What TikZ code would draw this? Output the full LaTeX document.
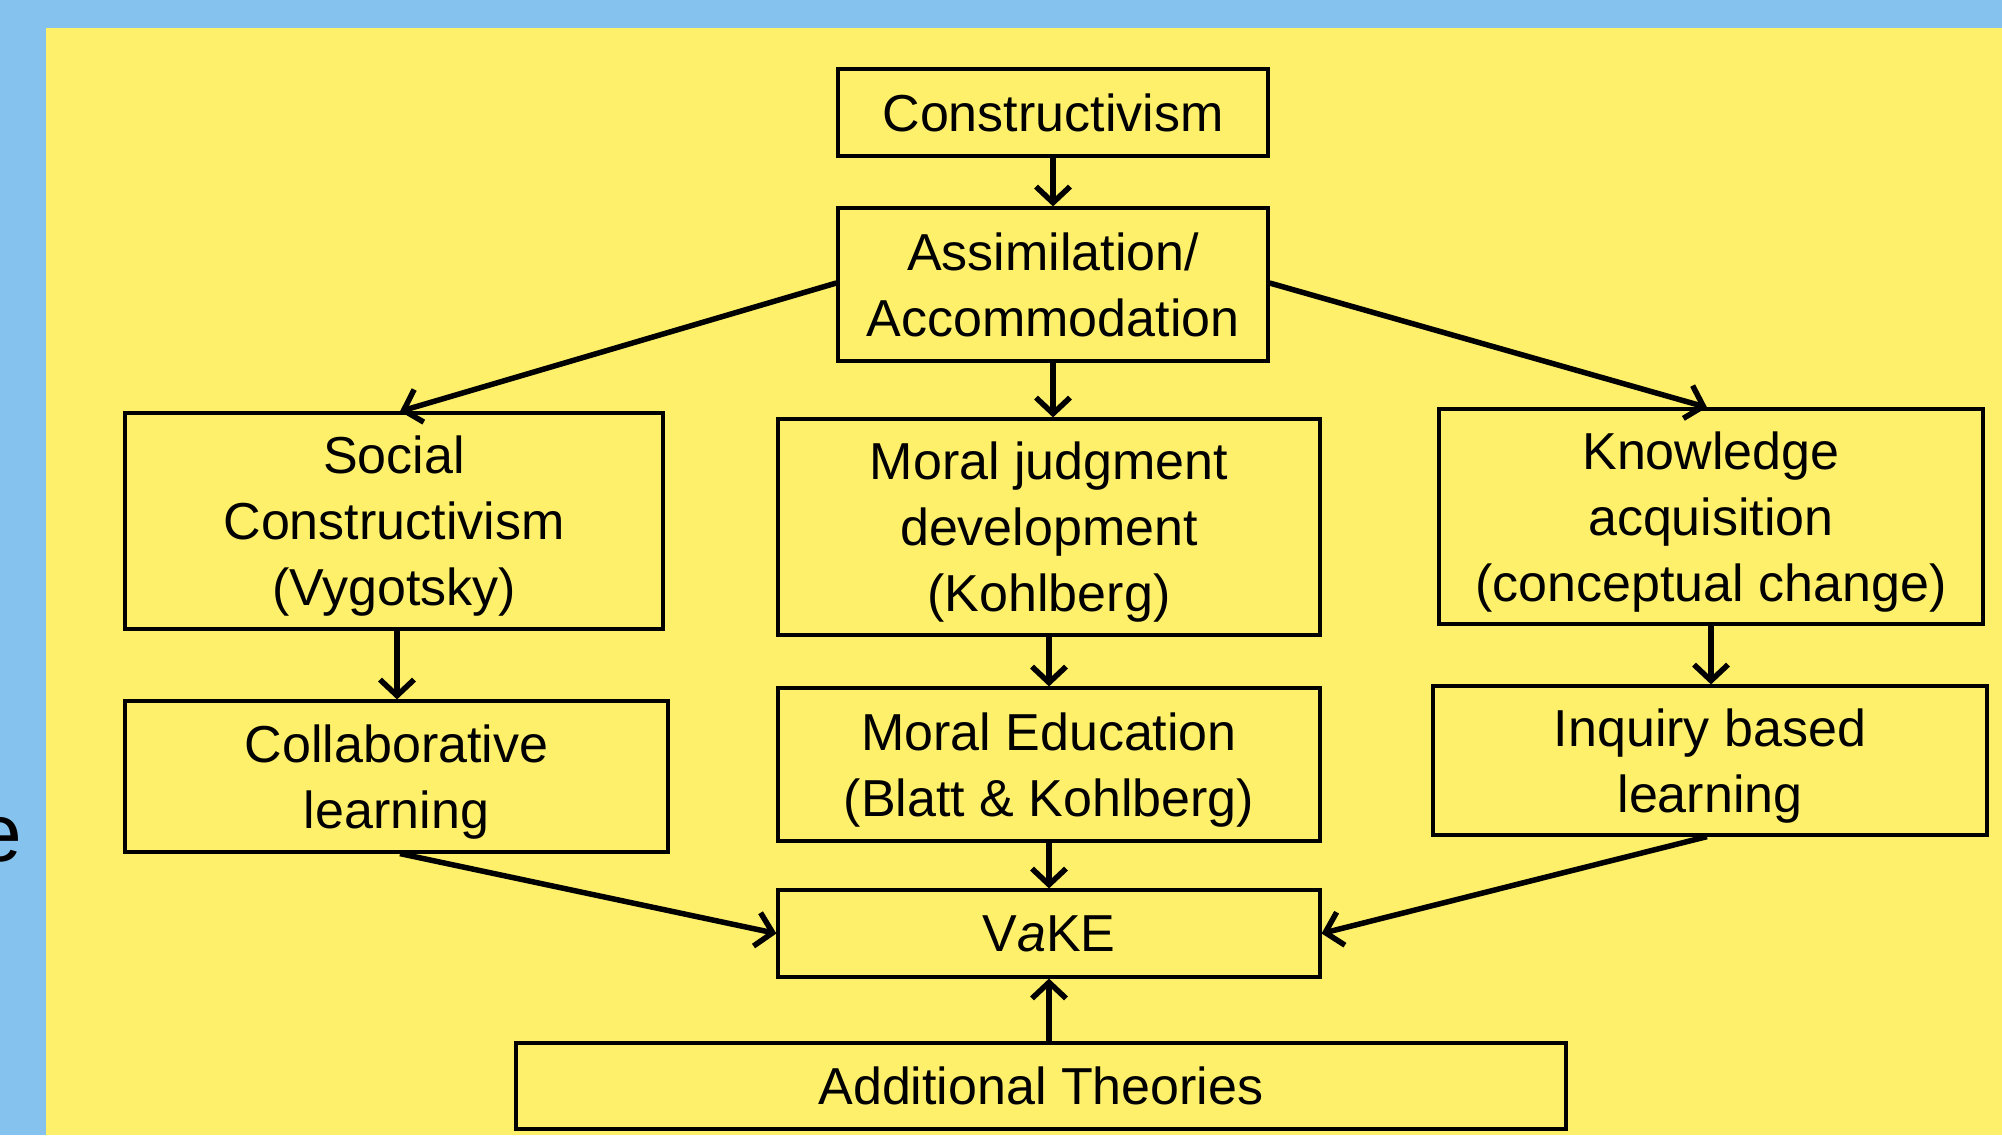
\documentclass[tikz,border=0pt]{standalone}
\usepackage{fontspec}
\setmainfont{Liberation Sans}
\usetikzlibrary{arrows.meta}
\definecolor{bgblue}{RGB}{133,194,237}
\definecolor{bgyellow}{RGB}{254,240,106}
\begin{document}
\begin{tikzpicture}[x=1pt,y=-1pt,
  box/.style={draw=black, line width=3.2pt, inner sep=0pt, align=center,
    font=\fontsize{52}{66}\selectfont, text=black, text depth=0pt},
  arr/.style={line width=5.5pt, -{Straight Barb[length=16pt,width=34pt,line width=5.5pt]}}]
\useasboundingbox (0,0) rectangle (2002,1135);
\fill[bgblue] (0,0) rectangle (2002,1135);
\fill[bgyellow] (46,28) rectangle (2002,1135);
\node[anchor=base east, font=\fontsize{82}{82}\selectfont, inner sep=0pt] (frag) at (22,861) {e};

\node[box, minimum width=430pt, minimum height=87pt] (cons) at (1053,112.5) {Constructivism};
\node[box, minimum width=430pt, minimum height=153pt] (assim) at (1053,284.5) {Assimilation/\\Accommodation};
\node[box, minimum width=538pt, minimum height=216pt] (social) at (394,521) {Social\\Constructivism\\(Vygotsky)};
\node[box, minimum width=542pt, minimum height=216pt] (moral) at (1049,527) {Moral judgment\\development\\(Kohlberg)};
\node[box, minimum width=544pt, minimum height=215pt] (know) at (1711,516.5) {Knowledge\\acquisition\\(conceptual change)};
\node[box, minimum width=543pt, minimum height=151pt] (collab) at (396.5,776.5) {Collaborative\\learning};
\node[box, minimum width=542pt, minimum height=153pt] (moraled) at (1049,764.5) {Moral Education\\(Blatt \& Kohlberg)};
\node[box, minimum width=554pt, minimum height=149pt] (inquiry) at (1710,760.5) {Inquiry based\\learning};
\node[box, minimum width=542pt, minimum height=87pt] (vake) at (1049,933.5) {V\textit{a}KE};
\node[box, minimum width=1050pt, minimum height=86pt] (add) at (1041,1086) {Additional Theories};

\draw[arr] (cons.south) -- (assim.north);
\draw[arr] (assim.south) -- (assim.south |- moral.north);
\draw[arr] (assim.west |- 0,283) -- (social.north -| 400,0);
\draw[arr] (assim.east |- 0,283) -- (know.north -| 1707,0);
\draw[arr] (social.south -| 397,0) -- (collab.north -| 397,0);
\draw[arr] (moral.south) -- (moraled.north);
\draw[arr] (know.south) -- (inquiry.north -| know.south);
\draw[arr] (collab.south -| 400,0) -- (vake.west);
\draw[arr] (moraled.south) -- (vake.north);
\draw[arr] (inquiry.south -| 1707,0) -- (vake.east);
\draw[arr] (add.north -| vake.south) -- (vake.south);
\end{tikzpicture}
\end{document}
